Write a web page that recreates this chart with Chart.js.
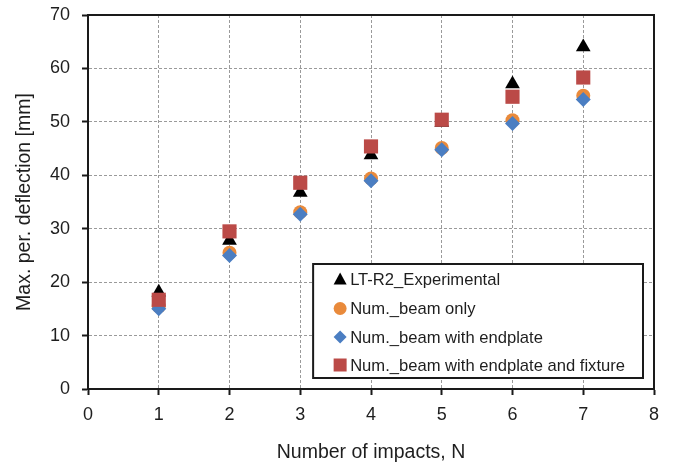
<!DOCTYPE html>
<html>
<head>
<meta charset="utf-8">
<script src="https://cdn.jsdelivr.net/npm/chart.js@4.4.1/dist/chart.umd.min.js"></script>
<style>
  html, body { margin: 0; padding: 0; background: #fff; }
  #wrap { width: 674px; height: 467px; }
</style>
</head>
<body>
<div id="wrap"><canvas id="c" width="674" height="467"></canvas></div>
<script>
// ---- data ----
const impacts = [1, 2, 3, 4, 5, 6, 7];
const experimental = [18.1, 27.8, 36.8, 43.8, 49.9, 57.1, 64.0];
const beamOnly = [15.5, 25.5, 33.1, 39.4, 45.1, 50.3, 54.9];
const beamEndplate = [15.0, 25.0, 32.7, 39.0, 44.8, 49.7, 54.2];
const beamEndplateFixture = [16.7, 29.5, 38.6, 45.4, 50.4, 54.7, 58.3];
const xTicks = [0, 1, 2, 3, 4, 5, 6, 7, 8];
const yTicks = [0, 10, 20, 30, 40, 50, 60, 70];
const seriesLabels = [
  'LT-R2_Experimental',
  'Num._beam only',
  'Num._beam with endplate',
  'Num._beam with endplate and fixture'
];

const FONT = "'Liberation Sans', Arial, sans-serif";
const TXT = '#1e1e1e';

function pts(ys) { return impacts.map((x, i) => ({ x: x, y: ys[i] })); }

const styles = [
  { color: '#000000', shape: 'triangle', r: 8.5, order: 4 },
  { color: '#E98A3B', shape: 'circle', r: 7, order: 3 },
  { color: '#4B7EC2', shape: 'rectRot', r: 7.5, order: 2 },
  { color: '#BB4A47', shape: 'rect', r: 10, order: 1 }
];
const seriesData = [experimental, beamOnly, beamEndplate, beamEndplateFixture];

const datasets = seriesData.map((d, i) => ({
  label: seriesLabels[i],
  data: pts(d),
  showLine: false,
  pointStyle: styles[i].shape,
  pointRadius: styles[i].r,
  pointHoverRadius: styles[i].r,
  backgroundColor: styles[i].color,
  borderColor: styles[i].color,
  borderWidth: 0,
  order: styles[i].order
}));

const boxPlugin = {
  id: 'box',
  beforeDatasetsDraw(chart) {
    const { ctx, chartArea: a } = chart;
    ctx.save();
    ctx.strokeStyle = '#1a1a1a';
    ctx.lineWidth = 2;
    ctx.beginPath();
    ctx.moveTo(a.left, a.top);
    ctx.lineTo(a.right, a.top);
    ctx.lineTo(a.right, a.bottom);
    ctx.stroke();
    ctx.restore();
  }
};

function drawMarker(ctx, shape, x, y, color) {
  ctx.fillStyle = color;
  ctx.beginPath();
  if (shape === 'triangle') {
    ctx.moveTo(x, y - 6.5);
    ctx.lineTo(x + 6.5, y + 5.5);
    ctx.lineTo(x - 6.5, y + 5.5);
    ctx.closePath();
  } else if (shape === 'circle') {
    ctx.arc(x, y, 6.5, 0, Math.PI * 2);
  } else if (shape === 'rectRot') {
    ctx.moveTo(x, y - 6.5);
    ctx.lineTo(x + 6.5, y);
    ctx.lineTo(x, y + 6.5);
    ctx.lineTo(x - 6.5, y);
    ctx.closePath();
  } else {
    ctx.rect(x - 6.5, y - 6.5, 13, 13);
  }
  ctx.fill();
}

const legendPlugin = {
  id: 'insideLegend',
  afterDraw(chart) {
    const { ctx, chartArea: a } = chart;
    ctx.save();
    ctx.font = '16.6px ' + FONT;
    let maxW = 0;
    chart.data.datasets.forEach(ds => { maxW = Math.max(maxW, ctx.measureText(ds.label).width); });
    const w = 37 + maxW + 18;
    const h = 114;
    const right = a.right - 11;
    const bottom = a.bottom - 11;
    const left = right - w;
    const top = bottom - h;
    ctx.fillStyle = '#ffffff';
    ctx.fillRect(left, top, w, h);
    ctx.strokeStyle = '#1a1a1a';
    ctx.lineWidth = 2;
    ctx.strokeRect(left, top, w, h);
    const rowY = [15, 44.5, 73, 101];
    ctx.textBaseline = 'middle';
    ctx.textAlign = 'left';
    chart.data.datasets.forEach((ds, i) => {
      const y = top + rowY[i];
      drawMarker(ctx, styles[i].shape, left + 27, y, styles[i].color);
      ctx.fillStyle = TXT;
      ctx.fillText(ds.label, left + 37, y + 1);
    });
    ctx.restore();
  }
};

new Chart(document.getElementById('c'), {
  type: 'scatter',
  data: { datasets: datasets },
  options: {
    responsive: false,
    animation: false,
    devicePixelRatio: 1,
    layout: { padding: { top: 15, right: 20, left: 0, bottom: 0 } },
    plugins: { legend: { display: false }, tooltip: { enabled: false } },
    scales: {
      x: {
        type: 'linear',
        min: 0, max: 8,
        afterBuildTicks(scale) { scale.ticks = xTicks.map(v => ({ value: v })); },
        afterFit(scale) { scale.height = 78; scale.paddingLeft = 0; scale.paddingRight = 0; },
        ticks: { color: TXT, font: { family: FONT, size: 18 }, padding: 9, maxRotation: 0, autoSkip: false },
        grid: { color: '#9a9a9a', lineWidth: 1, tickLength: 6, tickColor: '#1a1a1a', tickWidth: 2 },
        border: { display: true, color: '#1a1a1a', width: 2, dash: [3, 2] },
        title: { display: true, text: 'Number of impacts, N', color: TXT, font: { family: FONT, size: 19.5 }, padding: { top: 0, bottom: 3 } }
      },
      y: {
        type: 'linear',
        min: 0, max: 70,
        afterBuildTicks(scale) { scale.ticks = yTicks.map(v => ({ value: v })); },
        afterFit(scale) { scale.width = 88; scale.paddingTop = 0; scale.paddingBottom = 0; },
        ticks: { color: TXT, font: { family: FONT, size: 18 }, padding: 12 },
        grid: { color: '#9a9a9a', lineWidth: 1, tickLength: 6, tickColor: '#1a1a1a', tickWidth: 2 },
        border: { display: true, color: '#1a1a1a', width: 2, dash: [3, 2] },
        title: { display: true, text: 'Max. per. deflection [mm]', color: TXT, font: { family: FONT, size: 19.5 }, padding: { top: 13, bottom: 0 } }
      }
    }
  },
  plugins: [boxPlugin, legendPlugin]
});
</script>
</body>
</html>
